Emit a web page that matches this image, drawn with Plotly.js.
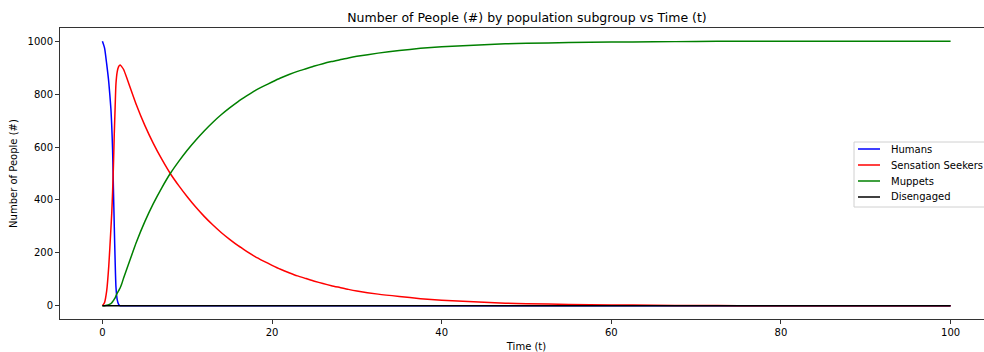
<!DOCTYPE html>
<html>
<head>
<meta charset="utf-8">
<script src="https://cdn.plot.ly/plotly-3.0.1.min.js"></script>
<style>
  html, body { margin: 0; padding: 0; background: #fff; overflow: hidden; width: 984px; height: 352px; }
  #chart { width: 1000px; height: 352px; }
</style>
</head>
<body>
<div id="chart"></div>
<script>
// Time samples (t)
const time = [0, 0.25, 0.5, 0.75, 1.0, 1.1, 1.2, 1.3, 1.4, 1.5, 1.6, 1.75, 1.9, 2.0, 2.1, 2.25, 2.5,
  3, 4, 5, 6, 7, 8, 9, 10, 11, 12, 13, 14, 15, 16, 17, 18, 19, 20,
  21, 22, 23, 24, 25, 26, 27, 28, 29, 30,
  32.5, 35, 37.5, 40, 42.5, 45, 47.5, 50,
  55, 60, 65, 70, 75, 80, 85, 90, 95, 100];

// Number of people in each subgroup at each time sample
const humans = [1000, 975, 915, 845, 745, 680, 590, 440, 300, 170, 70, 22, 6, 2, 0, 0, 0,
  0, 0, 0, 0, 0, 0, 0, 0, 0, 0, 0, 0, 0, 0, 0, 0, 0, 0,
  0, 0, 0, 0, 0, 0, 0, 0, 0, 0,
  0, 0, 0, 0, 0, 0, 0, 0,
  0, 0, 0, 0, 0, 0, 0, 0, 0, 0];
const sensationSeekers = [0, 12, 55, 150, 290, 350, 430, 530, 650, 750, 840, 885, 903, 908, 910, 905, 893,
  850, 760, 682, 614, 554, 500, 454, 412, 373, 338, 306, 277, 251, 227, 206, 186, 169, 153,
  138, 125, 113, 103, 93, 84, 76, 69, 62, 56,
  44, 35, 27, 21, 17, 13, 10, 8,
  5, 3, 2, 1, 0.5, 0.3, 0.2, 0.1, 0, 0];
const muppets = [0, 0.5, 2, 4, 8, 11, 15, 20, 25, 30, 38, 48, 56, 62, 68, 80, 105,
  150, 240, 318, 386, 446, 500, 546, 588, 626, 661, 693, 722, 748, 772, 793, 813, 830, 846,
  861, 874, 886, 896, 906, 915, 923, 930, 937, 943,
  955, 965, 973, 979, 983, 987, 990, 992,
  995, 997, 998, 999, 1000, 1000, 1000, 1000, 1000, 1000];
const disengagedTime = [0, 100];
const disengaged = [0, 0];

const seriesNames = ['Humans', 'Sensation Seekers', 'Muppets', 'Disengaged'];
const seriesTimes = [time, time, time, disengagedTime];
const seriesValues = [humans, sensationSeekers, muppets, disengaged];
const seriesColors = ['#0000ff', '#ff0000', '#008000', '#000000'];

const xTicks = [0, 20, 40, 60, 80, 100];
const yTicks = [0, 200, 400, 600, 800, 1000];

const FONT = 'DejaVu Sans, sans-serif';

const traces = seriesNames.map((name, i) => ({
  type: 'scatter',
  mode: 'lines',
  name: name,
  x: seriesTimes[i],
  y: seriesValues[i],
  line: { color: seriesColors[i], width: 1.5, shape: 'spline', smoothing: 0.6 },
  showlegend: false,
  hoverinfo: 'skip'
}));

// Plot-area geometry in pixels, used to place the legend box
const W = 1000, H = 352;
const M = { l: 60, r: 7, t: 28, b: 33 };
const plotW = W - M.l - M.r, plotH = H - M.t - M.b;
const px2x = px => (px - M.l) / plotW;
const py2y = py => (H - M.b - py) / plotH;

const shapes = [{
  type: 'rect', xref: 'paper', yref: 'paper',
  x0: px2x(854), x1: px2x(996), y0: py2y(207), y1: py2y(142),
  fillcolor: 'rgba(255,255,255,0.85)',
  line: { color: '#d0d0d0', width: 1 }
}];
const annotations = [];
seriesNames.forEach((name, i) => {
  const yc = py2y(149 + 16 * i);
  shapes.push({
    type: 'line', xref: 'paper', yref: 'paper',
    x0: px2x(858), x1: px2x(880), y0: yc, y1: yc,
    line: { color: seriesColors[i], width: 1.5 }
  });
  annotations.push({
    xref: 'paper', yref: 'paper', x: px2x(889), y: yc,
    xanchor: 'left', yanchor: 'middle', showarrow: false,
    text: name, font: { family: FONT, size: 10, color: '#000' }
  });
});

const axisCommon = {
  showgrid: false, zeroline: false, showline: true, mirror: true,
  linecolor: '#333', linewidth: 1,
  ticks: 'outside', ticklen: 4, tickwidth: 1, tickcolor: '#333',
  tickfont: { family: FONT, size: 10, color: '#000' },
  fixedrange: true
};

const layout = {
  width: W, height: H,
  margin: M,
  paper_bgcolor: '#fff', plot_bgcolor: '#fff',
  font: { family: FONT, size: 10, color: '#000' },
  title: {
    text: 'Number of People (#) by population subgroup vs Time (t)',
    font: { family: FONT, size: 12.5, color: '#000' },
    x: 527 / W, xanchor: 'center',
    y: 1 - 18 / H, yanchor: 'middle'
  },
  xaxis: Object.assign({}, axisCommon, {
    range: [-5, 105], tickvals: xTicks, ticktext: xTicks.map(String),
    title: { text: 'Time (t)', font: { family: FONT, size: 10, color: '#000' }, standoff: 6 }
  }),
  yaxis: Object.assign({}, axisCommon, {
    range: [-50, 1050], tickvals: yTicks, ticktext: yTicks.map(String),
    title: { text: 'Number of People (#)', font: { family: FONT, size: 10, color: '#000' }, standoff: 8 }
  }),
  shapes: shapes,
  annotations: annotations,
  showlegend: false
};

Plotly.newPlot('chart', traces, layout, { displayModeBar: false, staticPlot: true });
</script>
</body>
</html>
